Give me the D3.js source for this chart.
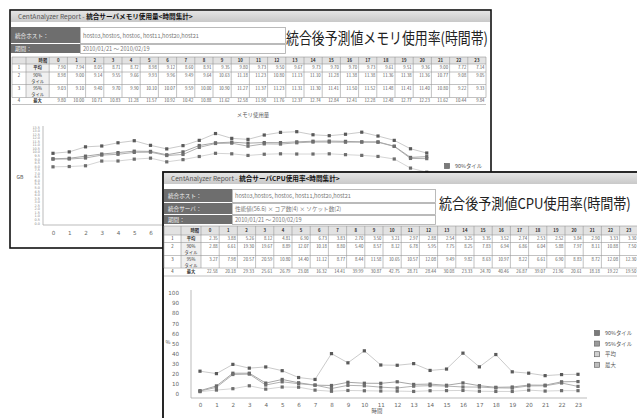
<!DOCTYPE html>
<html>
<head>
<meta charset="utf-8">
<script src="https://cdn.jsdelivr.net/npm/d3@7"></script>
<style>
body { margin: 0; background: #fff; }
svg { display: block; font-family: "Noto Sans CJK JP", "Noto Sans", sans-serif; }
</style>
</head>
<body>
<svg id="chart" width="637" height="418"></svg>
<script>
// hours of the day (table columns / x categories)
var hours = [0, 1, 2, 3, 4, 5, 6, 7, 8, 9, 10, 11, 12, 13, 14, 15, 16, 17, 18, 19, 20, 21, 22, 23];
var statLabels = [["平均"], ["90%", "タイル"], ["95%", "タイル"], ["最大"]];
var legendLabels = ["90%タイル", "95%タイル", "平均", "最大"];

// memory usage (GB)
var memAvg = [7.90, 7.94, 8.05, 8.71, 8.72, 8.98, 9.12, 8.60, 8.91, 9.35, 9.80, 9.73, 9.50, 9.67, 9.73, 9.70, 9.70, 9.73, 9.61, 9.51, 9.36, 9.00, 7.72, 7.14];
var mem90 = [8.98, 9.00, 9.14, 9.55, 9.66, 9.93, 9.96, 9.49, 9.64, 10.63, 11.18, 11.23, 10.80, 11.13, 11.10, 11.28, 11.38, 11.38, 11.36, 11.38, 11.36, 10.77, 9.08, 9.05];
var mem95 = [9.03, 9.10, 9.40, 9.70, 9.90, 10.10, 10.07, 9.59, 10.00, 10.90, 11.27, 11.37, 11.23, 11.31, 11.30, 11.41, 11.50, 11.52, 11.48, 11.41, 11.40, 10.80, 9.22, 9.33];
var memMax = [9.80, 10.00, 10.71, 10.83, 11.28, 11.57, 10.92, 10.42, 10.88, 11.62, 12.58, 11.90, 11.76, 12.37, 12.74, 12.84, 12.41, 12.28, 12.48, 12.77, 12.23, 11.62, 10.44, 9.84];

// CPU usage (%)
var cpuAvg = [2.35, 3.88, 5.26, 8.12, 4.81, 6.90, 6.73, 3.83, 2.70, 3.50, 3.21, 2.97, 2.88, 2.54, 3.25, 3.35, 3.52, 2.74, 2.53, 2.52, 3.84, 2.90, 3.33, 3.30];
var cpu90 = [2.88, 6.61, 19.30, 19.67, 8.89, 12.07, 10.18, 8.80, 5.40, 8.57, 8.12, 6.78, 5.95, 7.75, 8.25, 7.83, 6.94, 6.86, 6.04, 5.88, 7.97, 8.11, 10.88, 7.50];
var cpu95 = [3.27, 7.98, 20.57, 20.59, 10.80, 14.40, 11.12, 8.77, 8.44, 11.58, 10.65, 10.57, 12.08, 9.49, 9.82, 8.63, 10.97, 8.22, 6.61, 6.90, 8.83, 8.72, 12.08, 12.30];
var cpuMax = [22.58, 20.18, 29.33, 25.61, 26.79, 23.08, 16.32, 14.41, 39.99, 30.87, 42.75, 28.71, 28.44, 30.08, 23.33, 24.70, 40.46, 26.87, 39.07, 21.96, 20.61, 18.18, 19.22, 19.50];
var cpuTicks = [0, 10, 20, 30, 40, 50, 60, 70, 80, 90, 100];

var hostList = "host03,host05, host06, host11,host20,host21";
var period = "2010/01/21 〜 2010/02/19";
var serverSpec = "性能値(56.6) × コア数(4) × ソケット数(2)";

var svg = d3.select("#chart");
var grad = svg.append("defs").append("linearGradient")
    .attr("id", "hdr").attr("x1", 0).attr("y1", 0).attr("x2", 0).attr("y2", 1);
grad.append("stop").attr("offset", "0%").attr("stop-color", "#e4e4e4");
grad.append("stop").attr("offset", "100%").attr("stop-color", "#c9c9c9");

function drawHeader(g, x, y, w, title) {
    g.append("rect").attr("x", x).attr("y", y).attr("width", w).attr("height", 11)
        .attr("fill", "url(#hdr)");
    var t = g.append("text").attr("x", x + 7).attr("y", y + 8).attr("font-size", 6.6).attr("fill", "#555");
    t.append("tspan").text("CentAnalyzer Report  -  ");
    t.append("tspan").attr("font-weight", "bold").attr("fill", "#111").text(title);
}

// big caption pasted next to each report, squeezed horizontally to a given width
function drawCaption(g, x, y, w, size, str) {
    var t = g.append("text").attr("x", 0).attr("y", 0).attr("font-size", size).attr("fill", "#222").text(str);
    var k = w / t.node().getComputedTextLength();
    t.attr("transform", "translate(" + x + "," + y + ") scale(" + k + ",1)");
}

function drawInfoRow(g, x, y, labW, valW, h, label, value) {
    g.append("rect").attr("x", x).attr("y", y).attr("width", labW).attr("height", h - 1)
        .attr("fill", "#6e6e6e");
    g.append("rect").attr("x", x + labW + 0.5).attr("y", y + 0.5).attr("width", valW).attr("height", h - 1)
        .attr("fill", "#fff").attr("stroke", "#aaa").attr("stroke-width", 0.8);
    g.append("text").attr("x", x + 4).attr("y", y + h / 2 + 2).attr("font-size", 5.6)
        .attr("fill", "#f2f2f2").text(label);
    g.append("text").attr("x", x + labW + 3).attr("y", y + h / 2 + 2).attr("font-size", 5.6)
        .attr("fill", "#777").text(value);
}

function drawTable(g, t, rows) {
    var rowY = [t.y];
    t.rowH.forEach(function (h, i) { rowY.push(rowY[i] + h); });
    var x0 = t.x + t.numW + t.labW,
        x1 = x0 + t.colW * hours.length;
    g.append("rect").attr("x", t.x).attr("y", rowY[0]).attr("width", x1 - t.x).attr("height", t.rowH[0])
        .attr("fill", "#e2e2e2");
    g.append("rect").attr("x", t.x + t.numW).attr("y", rowY[1]).attr("width", t.labW).attr("height", rowY[4] - rowY[1])
        .attr("fill", "#f0f0f0");
    g.selectAll(".hl").data(rowY).enter().append("line")
        .attr("x1", t.x).attr("x2", x1).attr("y1", function (d) { return d; }).attr("y2", function (d) { return d; })
        .attr("stroke", "#999").attr("stroke-width", 0.6);
    var vx = [t.x, t.x + t.numW].concat(hours.map(function (h, i) { return x0 + i * t.colW; }), [x1]);
    g.selectAll(".vl").data(vx).enter().append("line")
        .attr("y1", rowY[0]).attr("y2", rowY[4]).attr("x1", function (d) { return d; }).attr("x2", function (d) { return d; })
        .attr("stroke", "#999").attr("stroke-width", 0.6);
    var fs = t.font;
    g.append("text").attr("x", x0 - 2).attr("y", rowY[0] + t.rowH[0] / 2 + fs / 3).attr("text-anchor", "end")
        .attr("font-size", fs).attr("font-weight", "bold").attr("fill", "#333").text("時間");
    g.selectAll(".hh").data(hours).enter().append("text")
        .attr("x", function (d, i) { return x0 + (i + 0.5) * t.colW; })
        .attr("y", rowY[0] + t.rowH[0] / 2 + fs / 3).attr("text-anchor", "middle")
        .attr("font-size", fs).attr("font-weight", "bold").attr("fill", "#333").text(function (d) { return d; });
    rows.forEach(function (vals, r) {
        var ty = rowY[r + 1] + (statLabels[r].length > 1 ? fs + 1 : t.rowH[r + 1] / 2 + fs / 3);
        g.append("text").attr("x", t.x + t.numW / 2).attr("y", ty).attr("text-anchor", "middle")
            .attr("font-size", fs).attr("fill", "#333").text(r + 1);
        statLabels[r].forEach(function (s, k) {
            g.append("text").attr("x", t.x + t.numW + t.labW / 2).attr("y", ty + k * (fs + 1.5))
                .attr("text-anchor", "middle").attr("font-size", fs)
                .attr("font-weight", statLabels[r].length > 1 ? "normal" : "bold")
                .attr("fill", "#333").text(s);
        });
        g.selectAll(".v" + r).data(vals).enter().append("text")
            .attr("x", function (d, i) { return x0 + (i + 1) * t.colW - 1.5; })
            .attr("y", ty).attr("text-anchor", "end").attr("font-size", fs).attr("fill", "#555")
            .text(function (d) { return d.toFixed(2); });
    });
}

var seriesStyle = [
    { line: "#c4c4c4", mark: "#5a5a5a" },
    { line: "#9c9c9c", mark: "#666" },
    { line: "#a8a8a8", mark: "#707070" },
    { line: "#cfcfcf", mark: "#6e6e6e" }
];

function drawSeries(g, x, y, series) {
    var line = d3.line().x(function (d, i) { return x(hours[i]); }).y(function (d) { return y(d); });
    series.forEach(function (vals, s) {
        g.append("path").datum(vals).attr("d", line).attr("fill", "none")
            .attr("stroke", seriesStyle[s].line).attr("stroke-width", 0.9);
    });
    series.forEach(function (vals, s) {
        g.selectAll(".m" + s).data(vals).enter().append("rect")
            .attr("x", function (d, i) { return x(hours[i]) - 1.6; })
            .attr("y", function (d) { return y(d) - 1.6; })
            .attr("width", 3.2).attr("height", 3.2)
            .attr("fill", seriesStyle[s].mark);
    });
}

function drawLegend(g, x, y) {
    var fills = ["#7a7a7a", "#9a9a9a", "#d0d0d0", "#bdbdbd"];
    var item = g.selectAll(".lg").data(legendLabels).enter().append("g")
        .attr("transform", function (d, i) { return "translate(" + x + "," + (y + i * 10.6) + ")"; });
    item.append("rect").attr("x", -2.5).attr("y", -2.5).attr("width", 5).attr("height", 5)
        .attr("fill", function (d, i) { return fills[i]; }).attr("stroke", "#666").attr("stroke-width", 0.7);
    item.append("text").attr("x", 8).attr("y", 2).attr("font-size", 5.4).attr("fill", "#555")
        .text(function (d) { return d; });
}

// texts of the back report that end up under the front one are dropped
function dropCovered(g, box) {
    g.selectAll("text").each(function () {
        var b = this.getBBox(), m = this.getCTM();
        var bx = b.x + m.e, by = b.y + m.f;
        if (bx >= box.x && by >= box.y) d3.select(this).remove();
    });
}

// ---------- panel 1 : memory ----------
var p1 = svg.append("g");
p1.append("rect").attr("x", 10).attr("y", 10).attr("width", 481).attr("height", 238)
    .attr("fill", "#fff").attr("stroke", "#111").attr("stroke-width", 1.6);
drawHeader(p1, 11, 11, 479, "統合サーバメモリ使用量<時間集計>");
drawInfoRow(p1, 11, 27, 69, 205, 17, "統合ホスト：", hostList);
drawInfoRow(p1, 11, 44, 69, 205, 10, "期間：", period);
drawCaption(p1, 286, 44, 202, 15.5, "統合後予測値メモリ使用率(時間帯)");
drawTable(p1, { x: 12, y: 57, numW: 14, labW: 23.2, colW: 18.2, rowH: [7, 8, 12.5, 13, 7], font: 4.3 },
    [memAvg, mem90, mem95, memMax]);

var xMem = d3.scalePoint().domain(hours).range([53, 53 + 23 * 16.25]);
var yMem = d3.scaleLinear().domain([0, 13.5]).range([223, 127]);
p1.append("text").attr("x", 253).attr("y", 117).attr("text-anchor", "middle").attr("font-size", 5.4)
    .attr("fill", "#555").text("メモリ使用量");
var yAx1 = p1.append("g").attr("transform", "translate(43,0)")
    .call(d3.axisLeft(yMem).ticks(28).tickSize(0).tickPadding(3).tickFormat(d3.format(".1f")));
yAx1.select(".domain").remove();
yAx1.selectAll("text").attr("font-size", 3.4).attr("fill", "#888").attr("font-family", "DejaVu Sans");
p1.append("line").attr("x1", 43).attr("x2", 43).attr("y1", 126).attr("y2", 225).attr("stroke", "#aaa").attr("stroke-width", 0.8);
p1.append("text").attr("x", 20).attr("y", 179).attr("text-anchor", "middle").attr("font-size", 5.2)
    .attr("fill", "#555").text("GB");
var xAx1 = p1.append("g").attr("transform", "translate(0,225)")
    .call(d3.axisBottom(xMem).tickSize(0).tickPadding(6));
xAx1.select(".domain").remove();
xAx1.selectAll("text").attr("font-size", 5.6).attr("fill", "#666").attr("font-family", "DejaVu Sans");
p1.append("line").attr("x1", 43).attr("x2", 440).attr("y1", 225).attr("y2", 225).attr("stroke", "#aaa").attr("stroke-width", 0.8);
drawSeries(p1, xMem, yMem, [memMax, mem95, mem90, memAvg]);
drawLegend(p1, 447, 166);
dropCovered(p1, { x: 163, y: 172 });

// ---------- panel 2 : CPU ----------
var p2 = svg.append("g");
p2.append("rect").attr("x", 163).attr("y", 172).attr("width", 480).attr("height", 252)
    .attr("fill", "#fff").attr("stroke", "#111").attr("stroke-width", 1.8);
drawHeader(p2, 164, 173, 474, "統合サーバCPU使用率<時間集計>");
drawInfoRow(p2, 164, 189, 68, 203, 14, "統合ホスト：", hostList);
drawInfoRow(p2, 164, 203, 68, 203, 12, "統合サーバ：", serverSpec);
drawInfoRow(p2, 164, 215, 68, 203, 10, "期間：", period);
drawCaption(p2, 439, 209, 192, 15, "統合後予測値CPU使用率(時間帯)");
drawTable(p2, { x: 164, y: 226, numW: 17, labW: 20, colW: 18.2, rowH: [9, 7.5, 13, 12.5, 8], font: 4.3 },
    [cpuAvg, cpu90, cpu95, cpuMax]);

var xCpu = d3.scalePoint().domain(hours).range([200, 578]);
var yCpu = d3.scaleLinear().domain([0, 100]).range([394, 293]);
var yAx2 = p2.append("g").attr("transform", "translate(179,0)")
    .call(d3.axisLeft(yCpu).tickValues(cpuTicks).tickSize(0).tickPadding(0));
yAx2.select(".domain").remove();
yAx2.selectAll("text").attr("font-size", 5.6).attr("fill", "#666").attr("font-family", "DejaVu Sans");
p2.append("line").attr("x1", 191).attr("x2", 191).attr("y1", 290).attr("y2", 398).attr("stroke", "#aaa").attr("stroke-width", 0.8);
p2.append("text").attr("x", 168).attr("y", 344).attr("text-anchor", "middle").attr("font-size", 5.4)
    .attr("fill", "#555").text("%");
var xAx2 = p2.append("g").attr("transform", "translate(0,398)")
    .call(d3.axisBottom(xCpu).tickSize(0).tickPadding(5));
xAx2.select(".domain").remove();
xAx2.selectAll("text").attr("font-size", 5.6).attr("fill", "#666").attr("font-family", "DejaVu Sans");
p2.append("line").attr("x1", 191).attr("x2", 587).attr("y1", 398).attr("y2", 398).attr("stroke", "#aaa").attr("stroke-width", 0.8);
p2.append("text").attr("x", 377).attr("y", 413).attr("text-anchor", "middle").attr("font-size", 5.4)
    .attr("fill", "#555").text("時間");
drawSeries(p2, xCpu, yCpu, [cpuMax, cpu95, cpu90, cpuAvg]);
drawLegend(p2, 597, 333);
</script>
</body>
</html>
